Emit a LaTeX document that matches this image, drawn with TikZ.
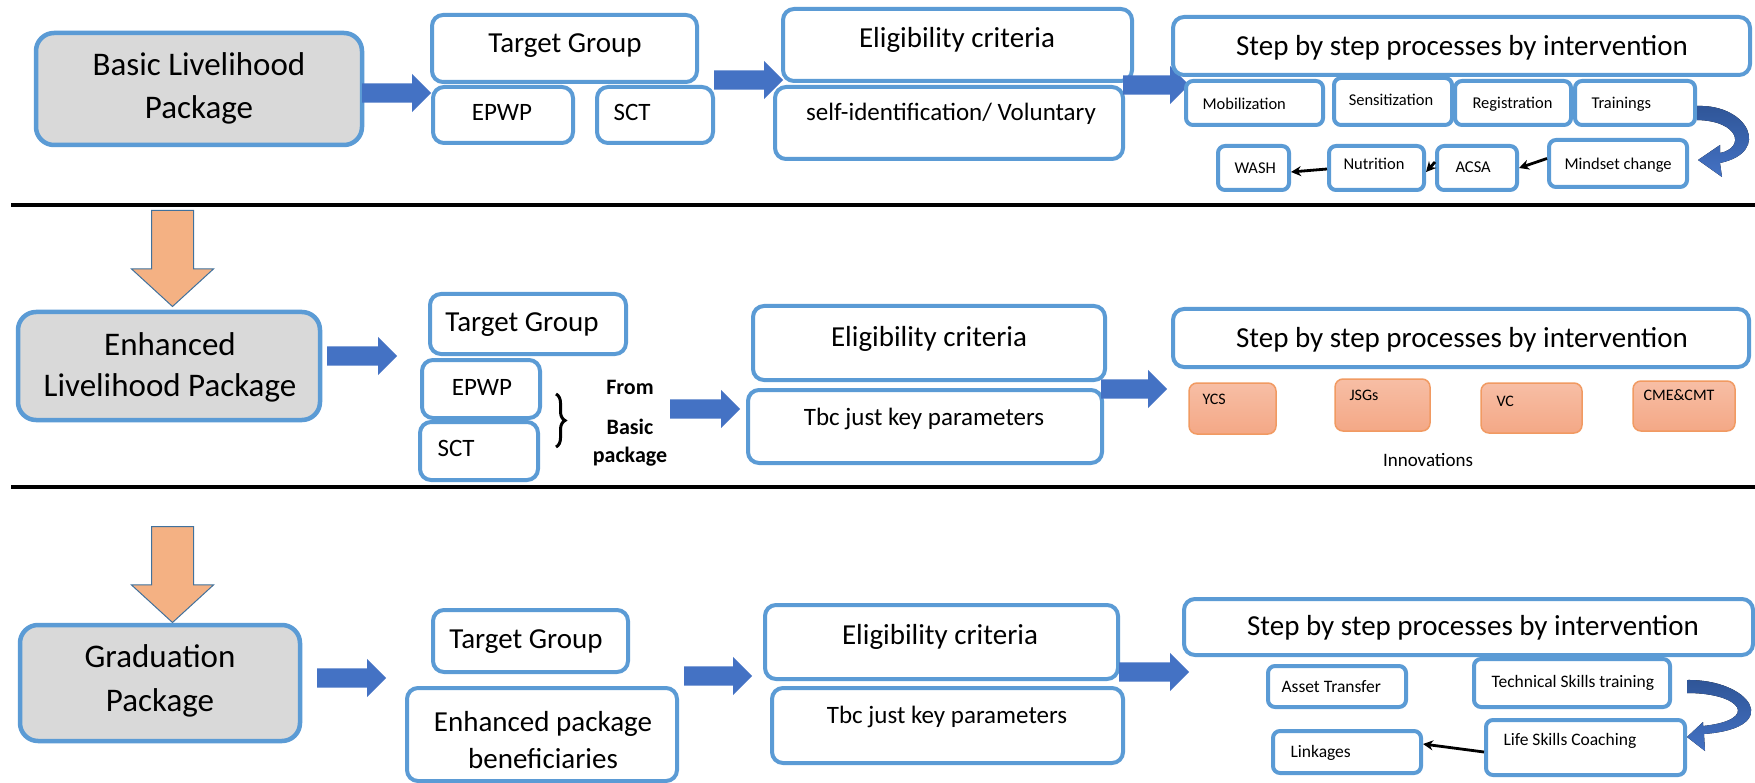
\documentclass[tikz,border=0pt]{standalone}
\usepackage{fontspec}
\setmainfont{Carlito}
\usetikzlibrary{shapes.arrows,fit,decorations.pathreplacing,arrows.meta}
\definecolor{bord}{HTML}{5B9BD5}
\definecolor{ablue}{HTML}{4472C4}
\definecolor{dblue}{HTML}{2F5597}
\definecolor{pgray}{HTML}{D9D9D9}
\definecolor{oarr}{HTML}{F4B183}
\definecolor{oline}{HTML}{41719C}
\definecolor{itop}{HTML}{F7BEA5}
\definecolor{ibot}{HTML}{F4A886}
\definecolor{iline}{HTML}{F19A62}
\newcommand\bx[6]{\node[#1, fit={(#3,#4)(#5,#6)}, inner sep=0pt] (#2) {};}
\newcommand\fs[1]{\fontsize{#1}{#1}\selectfont}
\begin{document}
\begin{tikzpicture}[x=1pt,y=-1pt,
  bigbox/.style={draw=bord, line width=4pt, rounded corners=11pt, fill=white},
  pkgbox/.style={draw=bord, line width=4.5pt, rounded corners=18pt, fill=pgray},
  smallbox/.style={draw=bord, line width=4pt, rounded corners=7pt, fill=white},
  innobox/.style={draw=iline, line width=1.5pt, rounded corners=8pt, top color=itop, bottom color=ibot},
  barrow/.style={single arrow, fill=ablue, draw=none, inner xsep=0pt, inner ysep=9.5pt, anchor=tail, single arrow tip angle=90, single arrow head extend=9.5pt},
  oarrow/.style={single arrow, fill=oarr, draw=oline, line width=1pt, inner sep=20.5pt, anchor=tail,
     shape border rotate=270, minimum height=96pt, single arrow head extend=20pt, single arrow tip angle=95},
  blk/.style={line width=2.8pt, -{Stealth[length=10pt,width=10pt]}},
  pkgfont/.style={font=\fontsize{33}{43}\selectfont, align=center},
  headfont/.style={font=\fs{29}},
  midfont/.style={font=\fs{25}},
  stepfont/.style={font=\fs{16.5}, anchor=west},
  stepfontb/.style={font=\fs{17.5}, anchor=west},
  innofont/.style={font=\fs{16}, anchor=west}]
\useasboundingbox (0,0) rectangle (1755,783);
\fill[white] (0,0) rectangle (1755,783);

% separators
\draw[line width=3.5pt] (11,205) -- (1755,205);
\draw[line width=3.5pt] (11,487) -- (1755,487);

% ---------------- Row 1
\bx{pkgbox}{basic}{36}{33}{362}{145}
\node[pkgfont] (basicT) at (199,88.5) {Basic Livelihood\\Package};
\node[barrow, minimum height=69pt] (a1) at (362,93) {};
\bx{bigbox}{tgA}{432}{15}{697}{82}
\node[headfont] (tgAT) at (565,46) {Target Group};
\bx{bigbox}{epA}{433}{87}{573}{143}
\node[midfont] (epAT) at (502,112) {EPWP};
\bx{bigbox}{sctA}{597}{87}{713}{143}
\node[midfont, anchor=west] (sctAT) at (610,112) {SCT};
\node[barrow, minimum height=69pt] (a2) at (714,80) {};
\bx{bigbox}{elA}{783}{9}{1132}{81}
\node[headfont] (elAT) at (957,40) {Eligibility criteria};
\bx{bigbox}{siA}{775}{87}{1123}{159}
\node[midfont] (siAT) at (951,114) {self-identification/ Voluntary};
\node[barrow, minimum height=66pt] (a3) at (1123,85) {};
\bx{bigbox}{stA}{1173}{17}{1750}{75}
\node[headfont] (stAT) at (1462,48) {Step by step processes by intervention};

\bx{smallbox}{mob}{1186}{81}{1323}{125}
\node[stepfont] (mobT) at (1199,104) {Mobilization};
\bx{smallbox}{sen}{1334}{78}{1452}{125}
\node[font=\fs{16.5}] (senT) at (1391,100) {Sensitization};
\bx{smallbox}{reg}{1455}{81}{1571}{125}
\node[stepfont] (regT) at (1469,104) {Registration};
\bx{smallbox}{tra}{1575}{81}{1695}{125}
\node[stepfont] (traT) at (1588,104) {Trainings};
\bx{smallbox}{mind}{1549}{140}{1687}{187}
\node[stepfont] (mindT) at (1561,165) {Mindset change};
\bx{smallbox}{acsa}{1437}{146}{1517}{190}
\node[stepfont] (acsaT) at (1452,167) {ACSA};
\bx{smallbox}{nut}{1329}{146}{1424}{190}
\node[stepfont] (nutT) at (1340,164) {Nutrition};
\bx{smallbox}{wash}{1218}{146}{1289}{190}
\node[stepfont] (washT) at (1231,168) {WASH};

\fill[top color=dblue, bottom color=ablue] (1697,106) .. controls (1748,104) and (1772,152) .. (1720,163)
  -- (1722,177) -- (1698,160) -- (1720,145) -- (1720,153)
  .. controls (1745,148) and (1740,121) .. (1697,120) -- cycle;
\draw[blk] ([yshift=5pt]mind.west) -- ([yshift=0pt]acsa.east);
\draw[blk] ([yshift=6pt]acsa.west) -- ([yshift=-4pt]nut.east);
\draw[blk] ([yshift=-1pt]nut.west) -- ([yshift=-4pt]wash.east);

% ---------------- Row 2
\node[oarrow] (o1) at (172.5,210) {};
\bx{pkgbox}{enh}{18}{312}{320}{420}
\node[pkgfont, font=\fontsize{33}{41}\selectfont] (enhT) at (170,367.5) {Enhanced\\Livelihood Package};
\node[barrow, minimum height=70pt] (a4) at (327,356) {};
\bx{bigbox}{tgB}{430}{294}{626}{354}
\node[headfont] (tgBT) at (522,325) {Target Group};
\bx{bigbox}{epB}{422}{360}{540}{418}
\node[midfont] (epBT) at (482,387) {EPWP};
\bx{bigbox}{sctB}{420}{422}{538}{480}
\node[midfont, anchor=west] (sctBT) at (434,448) {SCT};
\draw[decorate, decoration={brace, amplitude=9pt}, line width=3pt] (556,394) coordinate (brA) -- (556,447) coordinate (brB);
\node[font=\bfseries\fs{22}] (fromT) at (630,387) {From};
\node[font=\bfseries\fs{22}] (basT) at (630,427) {Basic};
\node[font=\bfseries\fs{22}] (pacT) at (630,457) {package};
\node[barrow, minimum height=70pt] (a5) at (670,409) {};
\bx{bigbox}{elB}{753}{306}{1105}{380}
\node[headfont] (elBT) at (929,339) {Eligibility criteria};
\bx{bigbox}{tbB}{748}{390}{1102}{463}
\node[midfont] (tbBT) at (924,419) {Tbc just key parameters};
\node[barrow, minimum height=66pt] (a6) at (1101,389) {};
\bx{bigbox}{stB}{1173}{309}{1749}{367}
\node[headfont] (stBT) at (1462,340) {Step by step processes by intervention};
\bx{innobox}{ycs}{1189}{383}{1276}{434}
\node[innofont] (ycsT) at (1199,399) {YCS};
\bx{innobox}{jsg}{1335}{379}{1430}{431}
\node[innofont] (jsgT) at (1346,395) {JSGs};
\bx{innobox}{vc}{1481}{383}{1582}{433}
\node[innofont] (vcT) at (1493,401) {VC};
\bx{innobox}{cme}{1633}{381}{1735}{431}
\node[innofont] (cmeT) at (1640,395) {CME\&CMT};
\node[font=\fs{19}] (innoT) at (1428,460) {Innovations};

% ---------------- Row 3
\node[oarrow] (o2) at (172.5,526) {};
\bx{pkgbox}{grad}{20}{625}{300}{741}
\node[pkgfont, font=\fontsize{33}{44}\selectfont] (gradT) at (160,681) {Graduation\\Package};
\node[barrow, minimum height=69pt] (a7) at (317,678) {};
\bx{bigbox}{tgC}{433}{610}{628}{672}
\node[headfont] (tgCT) at (526,642) {Target Group};
\bx{bigbox}{enpC}{407}{688}{677}{781}
\node[font=\fontsize{29}{37}\selectfont, align=center] (enpCT) at (543,740) {Enhanced package\\beneficiaries};
\node[barrow, minimum height=68pt] (a8) at (684,676) {};
\bx{bigbox}{elC}{765}{605}{1118}{679}
\node[headfont] (elCT) at (940,637) {Eligibility criteria};
\bx{bigbox}{tbC}{772}{688}{1123}{763}
\node[midfont] (tbCT) at (947,717) {Tbc just key parameters};
\node[barrow, minimum height=70pt] (a9) at (1119,672) {};
\bx{bigbox}{stC}{1184}{599}{1753}{655}
\node[headfont] (stCT) at (1473,628) {Step by step processes by intervention};
\bx{smallbox}{ast}{1268}{666}{1406}{707}
\node[stepfontb] (astT) at (1278,687) {Asset Transfer};
\bx{smallbox}{tec}{1474}{659}{1670}{707}
\node[stepfontb] (tecT) at (1488,683) {Technical Skills training};
\bx{smallbox}{life}{1486}{720}{1685}{775}
\node[stepfontb] (lifeT) at (1500,741) {Life Skills Coaching};
\bx{smallbox}{link}{1273}{731}{1421}{773}
\node[stepfontb] (linkT) at (1287,753) {Linkages};
\fill[top color=dblue, bottom color=ablue] (1687,680) .. controls (1750,679) and (1785,728) .. (1704,734)
  -- (1705,751) -- (1687,737) -- (1703,722) -- (1703,726)
  .. controls (1760,720) and (1742,693) .. (1687,693) -- cycle;
\draw[blk] ([yshift=-4.5pt]life.west) -- ([yshift=8pt]link.east);
\end{tikzpicture}
\end{document}
